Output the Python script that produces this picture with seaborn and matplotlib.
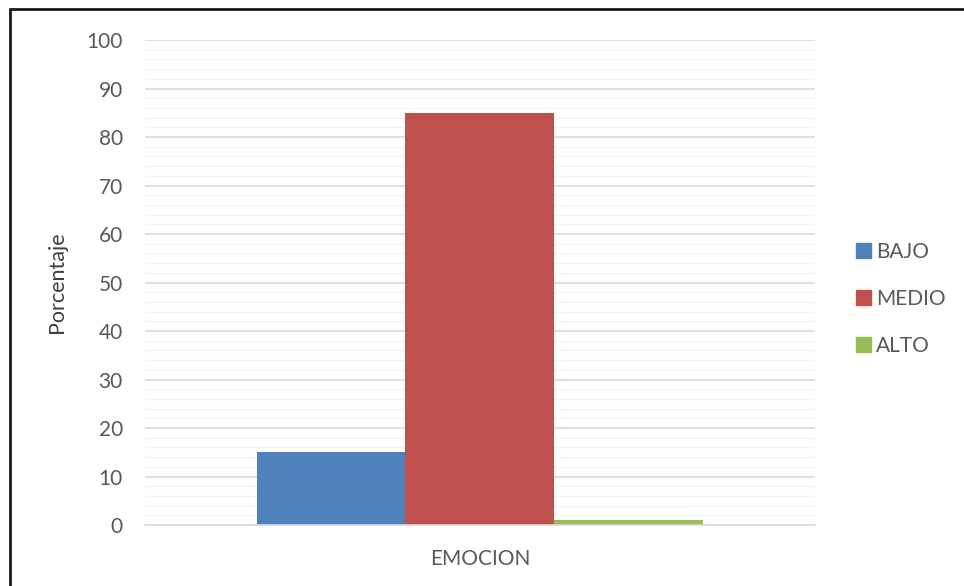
import matplotlib
matplotlib.use("Agg")
import matplotlib.pyplot as plt
from matplotlib.lines import Line2D
from matplotlib.ticker import MultipleLocator
import seaborn as sns
import pandas as pd

categories = ["EMOCION"]
levels = ["BAJO", "MEDIO", "ALTO"]
values = [15, 85, 1]
colors = ["#4F81BD", "#C0504D", "#9BBB59"]

df = pd.DataFrame({
    "dimension": categories * len(levels),
    "nivel": levels,
    "porcentaje": values,
})

sns.set_theme(style="white")
plt.rcParams["font.family"] = ["Lato", "DejaVu Sans"]

fig = plt.figure(figsize=(9.64, 5.86), dpi=100)
ax = fig.add_axes([0.1504, 0.1041, 0.695, 0.8276])

sns.barplot(data=df, x="dimension", y="porcentaje", hue="nivel",
            hue_order=levels, palette=colors, width=0.667,
            saturation=1, ax=ax, legend=False, linewidth=0)

ax.set_xlim(-0.5, 0.5)
ax.set_ylim(0, 100)
ax.yaxis.set_major_locator(MultipleLocator(10))
ax.yaxis.set_minor_locator(MultipleLocator(2))
ax.grid(which="major", axis="y", color="#d9d9d9", linewidth=1.2)
ax.grid(which="minor", axis="y", color="#f2f2f2", linewidth=1.0)
ax.set_axisbelow(True)
for s in ["left", "right", "top"]:
    ax.spines[s].set_visible(False)
ax.spines["bottom"].set_color("#d9d9d9")
ax.spines["bottom"].set_linewidth(1.2)

ax.tick_params(axis="both", which="both", length=0, labelsize=15,
               labelcolor="#595959")
ax.tick_params(axis="y", pad=16)
ax.tick_params(axis="x", pad=17)
ax.set_xlabel("")
ax.set_ylabel("Porcentaje", fontsize=15.5, color="#404040", labelpad=14)

handles = [plt.Rectangle((0, 0), 1, 1, color=c) for c in colors]
fig.legend(handles, levels, loc="center left", bbox_to_anchor=(0.869, 0.49),
           frameon=False, fontsize=15, labelcolor="#595959",
           handlelength=0.7, handleheight=0.7, handletextpad=0.25,
           labelspacing=1.3)

# frame lines along the left and top edges
fig.add_artist(Line2D([0.0105, 0.0105], [0, 0.985], transform=fig.transFigure,
                      color="#1a1a1a", linewidth=2))
fig.add_artist(Line2D([0.0105, 1.0], [0.985, 0.985], transform=fig.transFigure,
                      color="#1a1a1a", linewidth=2))

fig.savefig("out.png", dpi=100, facecolor="white")
